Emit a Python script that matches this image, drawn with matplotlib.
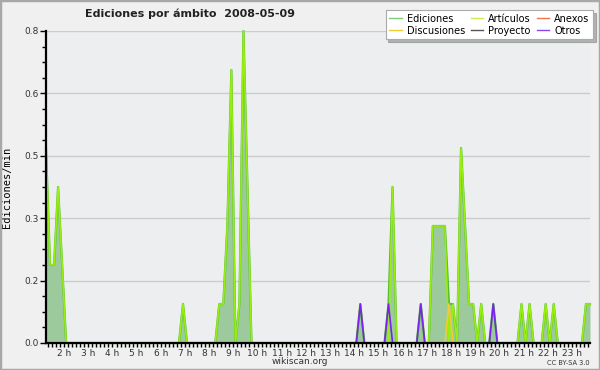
import numpy as np
import matplotlib
matplotlib.use('Agg')
import matplotlib.pyplot as plt
from matplotlib.lines import Line2D
from matplotlib.patches import Rectangle
from matplotlib.ticker import MultipleLocator, FixedLocator, FixedFormatter

# 10-minute bins starting at 1:15, values in edits/min
start_hour = 1.25
ediciones = [
    0.5, 0.2, 0.2, 0.4, 0.2, 0,
    0, 0, 0, 0, 0, 0,
    0, 0, 0, 0, 0, 0,
    0, 0, 0, 0, 0, 0,
    0, 0, 0, 0, 0, 0,
    0, 0, 0, 0, 0.1, 0,
    0, 0, 0, 0, 0, 0,
    0, 0.1, 0.1, 0.3, 0.7, 0,
    0.1, 0.8, 0.4, 0, 0, 0,
    0, 0, 0, 0, 0, 0,
    0, 0, 0, 0, 0, 0,
    0, 0, 0, 0, 0, 0,
    0, 0, 0, 0, 0, 0,
    0.1, 0, 0, 0, 0, 0,
    0, 0.1, 0.4, 0, 0, 0,
    0, 0, 0, 0.1, 0, 0,
    0.3, 0.3, 0.3, 0.3, 0.1, 0.1,
    0, 0.5, 0.3, 0.1, 0.1, 0,
    0.1, 0, 0, 0.1, 0, 0,
    0, 0, 0, 0, 0.1, 0,
    0.1, 0, 0, 0, 0.1, 0,
    0.1, 0, 0, 0, 0, 0,
    0, 0, 0.1, 0.1,
]
# bins where the edit was not in main namespace
otros_bins = [78, 85, 93, 111]
discusiones_bins = [100]
otros_value = 0.1
discusiones_value = 0.1

series_names = ['Ediciones', 'Discusiones', 'Artículos', 'Proyecto', 'Anexos', 'Otros']
series_colors = ['#7fcf7f', '#f0cc30', '#c8ee50', '#555555', '#ee7744', '#8844ee']

hour_ticks = list(range(2, 24))
hour_labels = ['%d h' % h for h in hour_ticks]
y_ticks = [0, 0.16, 0.32, 0.48, 0.64, 0.8]

ed = np.array(ediciones, dtype=float)
t = start_hour + np.arange(len(ed)) / 6.0
otros = np.zeros_like(ed)
otros[otros_bins] = otros_value
disc = np.zeros_like(ed)
disc[discusiones_bins] = discusiones_value
art = ed - otros - disc
zeros = np.zeros_like(ed)

fig = plt.figure(figsize=(6, 3.7), dpi=100, facecolor='#f0f0f0')
fig.patches.append(Rectangle((0, 0), 1, 1, transform=fig.transFigure,
                             fill=False, edgecolor='#a8a8a8', lw=2.5))
ax = fig.add_axes([46 / 600, 27 / 370, 544 / 600, 312 / 370])
ax.set_facecolor('#eceef0')

for y in y_ticks[1:]:
    ax.axhline(y, color='#cccccc', lw=1, zorder=1)

ax.fill_between(t, ed, color='#9dca9d', lw=0, zorder=2)
ax.plot(t, zeros, color='#ee7744', lw=1, zorder=3)
ax.plot(t, zeros, color='#555555', lw=1, zorder=3)
ax.plot(t, ed, color='#55bb33', lw=1.6, zorder=3, clip_on=False)
ax.plot(t, art, color='#99ee11', lw=1.2, zorder=4, clip_on=False)
ax.plot(t, disc, color='#f0cc30', lw=1.2, zorder=5)
ax.plot(t, otros, color='#7a22ee', lw=1.2, zorder=5)

ax.set_xlim(t[0], t[-1])
ax.set_ylim(0, 0.8)
for s in ['top', 'right']:
    ax.spines[s].set_visible(False)
for s in ['left', 'bottom']:
    ax.spines[s].set_linewidth(1.6)
    ax.spines[s].set_zorder(8)

ax.xaxis.set_major_locator(FixedLocator(hour_ticks))
ax.xaxis.set_major_formatter(FixedFormatter(hour_labels))
ax.xaxis.set_minor_locator(MultipleLocator(1 / 6))
ax.yaxis.set_major_locator(FixedLocator(y_ticks))
ax.yaxis.set_major_formatter(FixedFormatter(['%.1f' % v for v in y_ticks]))
ax.yaxis.set_minor_locator(MultipleLocator(0.04))
ax.tick_params(axis='x', which='both', length=3, width=1, pad=1,
               labelsize=6.5, labelcolor='#333333')
ax.tick_params(axis='y', which='major', length=4, width=1, pad=1,
               labelsize=6.5, labelcolor='#333333')
ax.tick_params(axis='y', which='minor', length=3, width=1)
ax.set_ylabel('Ediciones/min', family='DejaVu Sans Mono', fontsize=7.5,
              labelpad=4)
ax.yaxis.set_label_coords(-0.062, 0.5)

fig.text(0.142, 0.962, 'Ediciones por ámbito  2008-05-09', fontsize=8,
         fontweight='bold', ha='left', va='center', color='#222222')
fig.text(0.5, 0.024, 'wikiscan.org', fontsize=6.5, ha='center',
         va='center', color='#333333')
fig.text(0.983, 0.02, 'CC BY-SA 3.0', fontsize=4.8, ha='right',
         va='center', color='#333333')

handles = [Line2D([], [], color=c, lw=1) for c in series_colors]
leg = fig.legend(handles, series_names, ncol=3, loc='upper right',
                 bbox_to_anchor=(0.988, 0.972), fontsize=7, frameon=True,
                 fancybox=False, shadow={'color': '#777777'},
                 handlelength=1.3, handletextpad=0.5, columnspacing=0.6,
                 labelspacing=0.2, borderpad=0.35, borderaxespad=0)
leg.get_frame().set_edgecolor('#aaaaaa')
leg.get_frame().set_linewidth(0.8)

fig.savefig('out.png', dpi=100, facecolor=fig.get_facecolor())
